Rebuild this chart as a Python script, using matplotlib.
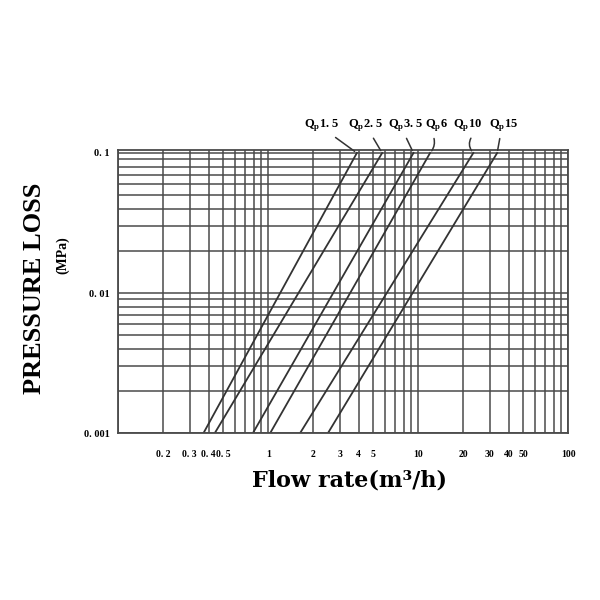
import matplotlib
matplotlib.use('Agg')
import matplotlib.pyplot as plt
from matplotlib.ticker import LogLocator, FixedLocator, NullFormatter

# данные кривых потерь давления
series = ['1. 5', '2. 5', '3. 5', '6', '10', '15']
q_at_min = [0.37, 0.44, 0.79, 1.03, 1.63, 2.5]    # расход при 0.001 МПа
q_at_max = [3.9, 5.75, 9.3, 12.0, 23.3, 33.6]     # расход при 0.1 МПа
p_min, p_max = 0.001, 0.1

xticks = [0.2, 0.3, 0.4, 0.5, 1, 2, 3, 4, 5, 10, 20, 30, 40, 50, 100]
xticklabels = ['0. 2', '0. 3', '0. 4', '0. 5', '1', '2', '3', '4', '5', '10',
               '20', '30', '40', '50', '100']
yticks = [0.001, 0.01, 0.1]
yticklabels = ['0. 001', '0. 01', '0. 1']

plt.rcParams['font.family'] = ['Liberation Serif', 'DejaVu Serif']
plt.rcParams['mathtext.fontset'] = 'custom'
plt.rcParams['mathtext.rm'] = 'Liberation Serif'
plt.rcParams['mathtext.bf'] = 'Liberation Serif:bold'

fig = plt.figure(figsize=(6, 6), dpi=100)
ax = fig.add_axes([0.197, 0.278, 0.75, 0.472])
ax.set_xscale('log')
ax.set_yscale('log')
ax.set_xlim(0.1, 100)
ax.set_ylim(0.001, 0.105)

grid_col = '#4a4a4a'
ax.xaxis.set_minor_locator(LogLocator(base=10, subs=range(1, 10), numticks=20))
ax.yaxis.set_minor_locator(LogLocator(base=10, subs=range(1, 10), numticks=20))
ax.xaxis.set_minor_formatter(NullFormatter())
ax.yaxis.set_minor_formatter(NullFormatter())
ax.grid(True, which='both', color=grid_col, linewidth=1.1)

ax.xaxis.set_major_locator(FixedLocator(xticks))
ax.set_xticklabels(xticklabels)
ax.yaxis.set_major_locator(FixedLocator(yticks))
ax.set_yticklabels(yticklabels)
ax.tick_params(which='both', length=0)
ax.tick_params(axis='x', pad=12, labelsize=7)
ax.tick_params(axis='y', pad=6, labelsize=7.5)
for lab in ax.get_xticklabels() + ax.get_yticklabels():
    lab.set_fontweight('bold')
for s in ax.spines.values():
    s.set_color(grid_col)
    s.set_linewidth(1.3)

for i in range(len(series)):
    ax.plot([q_at_min[i], q_at_max[i]], [p_min, p_max], color='#333333', linewidth=1.3)

# подписи кривых с выносками (позиции в долях осей)
label_x = [0.453, 0.549, 0.638, 0.707, 0.776, 0.856]
start_x = [0.478, 0.564, 0.638, 0.70, 0.787, 0.849]
rads = [0.0, 0.0, 0.0, -0.3, 0.4, 0.0]
for i in range(len(series)):
    ax.text(label_x[i], 1.09, r'$\mathbf{Q}_{\mathbf{p}}$' + series[i], transform=ax.transAxes,
            ha='center', va='center', fontsize=9, fontweight='bold')
    ax.annotate('', xy=(q_at_max[i], p_max), xycoords='data',
                xytext=(start_x[i], 1.05), textcoords='axes fraction',
                annotation_clip=False,
                arrowprops=dict(arrowstyle='-', color='#333333', lw=1.1,
                                connectionstyle='arc3,rad=%s' % rads[i]))

fig.text(0.058, 0.52, 'PRESSURE LOSS', rotation=90, ha='center', va='center',
         fontsize=19, fontweight='bold')
fig.text(0.105, 0.575, '(MPa)', rotation=90, ha='center', va='center',
         fontsize=10, fontweight='bold')
fig.text(0.582, 0.2, 'Flow rate(m³/h)', ha='center', va='center', fontsize=16,
         fontweight='bold', family=['DejaVu Serif'])

fig.savefig('out.png', dpi=100)
